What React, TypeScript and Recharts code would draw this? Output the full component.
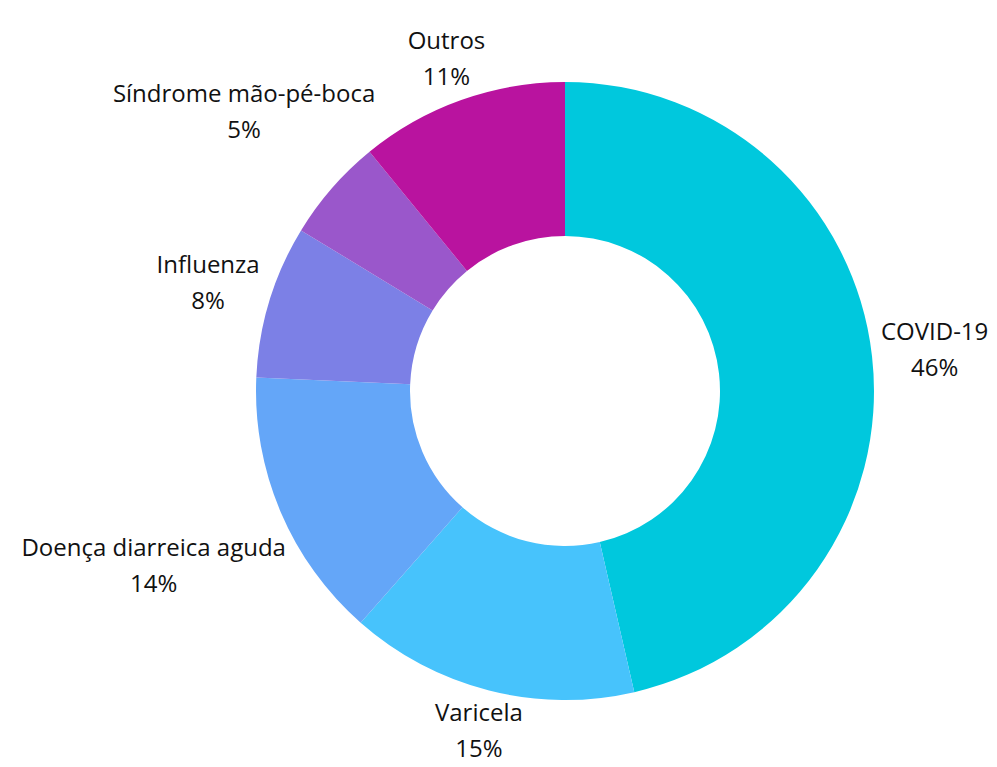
import { PieChart, Pie, Cell } from "recharts";

const categories = [
  "COVID-19",
  "Varicela",
  "Doença diarreica aguda",
  "Influenza",
  "Síndrome mão-pé-boca",
  "Outros",
];
const shares = [46.4, 15.1, 14.2, 8.0, 5.4, 10.9];
const colors = ["#00c8dd", "#47c3fc", "#64a6f8", "#7c80e6", "#9a57cb", "#b9139f"];

const data = categories.map((name, i) => ({ name, value: shares[i] }));

const FONT = "'Open Sans', sans-serif";
const FONT_SIZE = 24;
const CAP = 17;
const LINE_GAP = 36;
const CLEARANCE = 316;

let ctx: CanvasRenderingContext2D | null = null;
function measure(text: string) {
  if (!ctx) ctx = document.createElement("canvas").getContext("2d");
  if (!ctx) return text.length * FONT_SIZE * 0.55;
  ctx.font = `${FONT_SIZE}px ${FONT}`;
  return ctx.measureText(text).width;
}

function renderLabel(props: any) {
  const { cx, cy, midAngle, index } = props;
  const rad = (-midAngle * Math.PI) / 180;
  const nx = Math.cos(rad);
  const ny = Math.sin(rad);
  const name = categories[index];
  const pct = `${Math.round(shares[index])}%`;
  const w = Math.max(measure(name), measure(pct));
  const h = CAP + LINE_GAP;

  // push the label block outward along the mid-angle until it clears the ring
  const gapAt = (t: number) => {
    const dx = Math.max(0, Math.abs(t * nx) - w / 2);
    const dy = Math.max(0, Math.abs(t * ny) - h / 2);
    return Math.sqrt(dx * dx + dy * dy);
  };
  let t = 0;
  while (gapAt(t) < CLEARANCE && t < 1000) t += 0.5;

  const x = cx + t * nx;
  const y = cy + t * ny;
  return (
    <g>
      <text x={x} y={y - h / 2 + CAP} textAnchor="middle" fill="#111" fontSize={FONT_SIZE} fontFamily={FONT}>
        {name}
      </text>
      <text x={x} y={y + h / 2} textAnchor="middle" fill="#111" fontSize={FONT_SIZE} fontFamily={FONT}>
        {pct}
      </text>
    </g>
  );
}

export default function App() {
  return (
    <div style={{ width: 997, height: 767 }}>
      <style>{`body{margin:0}`}</style>
      <PieChart width={997} height={767} margin={{ top: 0, right: 0, bottom: 0, left: 0 }}>
        <Pie
          data={data}
          dataKey="value"
          nameKey="name"
          cx={565}
          cy={391}
          innerRadius={155}
          outerRadius={309}
          startAngle={90}
          endAngle={-270}
          stroke="none"
          label={renderLabel}
          labelLine={false}
          isAnimationActive={false}
        >
          {data.map((d, i) => (
            <Cell key={d.name} fill={colors[i]} />
          ))}
        </Pie>
      </PieChart>
    </div>
  );
}
